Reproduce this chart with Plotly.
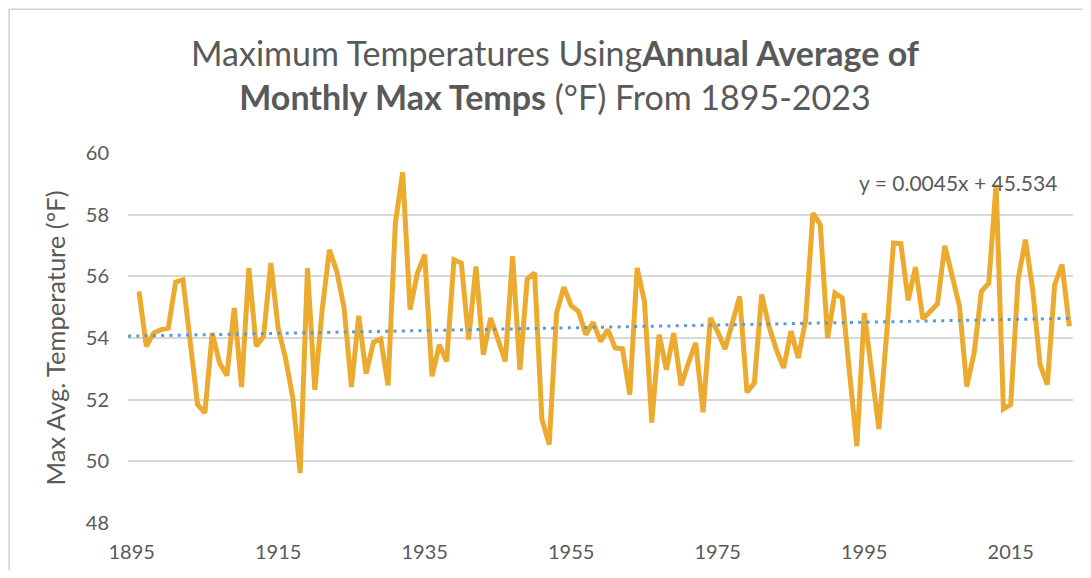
import plotly.graph_objects as go

# Data: annual average of monthly max temps (°F); 1895 has no value plotted
years = list(range(1896, 2024))
max_temps = [
    55.51, 53.73, 54.16, 54.27, 54.32, 55.81, 55.89, 53.84, 51.84, 51.57,  # 1896-1905
    54.16, 53.19, 52.78, 54.97, 52.41, 56.27, 53.73, 54.05, 56.43, 54.32,  # 1906-1915
    53.35, 52.05, 49.62, 56.27, 52.32, 54.90, 56.86, 56.16, 54.97, 52.41,  # 1916-1925
    54.72, 52.84, 53.86, 53.97, 52.46, 57.73, 59.37, 54.92, 56.10, 56.70,  # 1926-1935
    52.76, 53.78, 53.24, 56.54, 56.43, 53.95, 56.32, 53.46, 54.65, 53.95,  # 1936-1945
    53.24, 56.65, 52.97, 55.91, 56.11, 51.37, 50.54, 54.81, 55.65, 55.05,  # 1946-1955
    54.86, 54.11, 54.51, 53.89, 54.27, 53.68, 53.65, 52.16, 56.27, 55.19,  # 1956-1965
    51.26, 54.11, 52.97, 54.16, 52.46, 53.19, 53.84, 51.59, 54.65, 54.20,  # 1966-1975
    53.64, 54.49, 55.35, 52.24, 52.54, 55.41, 54.38, 53.62, 53.03, 54.22,  # 1976-1985
    53.35, 54.59, 58.05, 57.68, 54.00, 55.46, 55.30, 52.86, 50.49, 54.81,  # 1986-1995
    52.86, 51.05, 53.95, 57.08, 57.06, 55.22, 56.30, 54.62, 54.86, 55.11,  # 1996-2005
    56.99, 56.05, 55.03, 52.43, 53.51, 55.51, 55.78, 58.97, 51.70, 51.84,  # 2006-2015
    55.89, 57.19, 55.57, 53.14, 52.49, 55.73, 56.38, 54.38,                # 2016-2023
]

# Linear trend as labelled on the chart
trend_slope = 0.0045
trend_intercept = 45.534
trend_x = [1894.5, 2023]
trend_y = [trend_slope * x + trend_intercept for x in trend_x]

x_tick_vals = [1895, 1915, 1935, 1955, 1975, 1995, 2015]
y_tick_vals = [48, 50, 52, 54, 56, 58, 60]

FONT = "Lato"
GRAY = "#595959"

# The page body has an 8px default margin; size the figure so it fits the window.
W, H = 1075, 562
OFF = 8
L, R, T, B = 128.3, 1072.7, 153.3, 523.3  # plot area on screen


def px_x(sx):
    return (sx - L) / (R - L)


def px_y(sy):
    return (B - sy) / (B - T)


fig = go.Figure()
fig.add_trace(go.Scatter(
    x=years, y=max_temps, mode="lines",
    line=dict(color="#ECAB2F", width=5),
    showlegend=False, hoverinfo="x+y",
))
fig.add_trace(go.Scatter(
    x=trend_x, y=trend_y, mode="lines",
    line=dict(color="#5B9BD5", width=3, dash="3px,5.3px"),
    showlegend=False, hoverinfo="skip",
))

fig.update_layout(
    width=W, height=H,
    margin=dict(l=L - OFF, r=W - (R - OFF), t=T - OFF, b=H - (B - OFF), autoexpand=False),
    paper_bgcolor="white", plot_bgcolor="white",
    font=dict(family=FONT, color=GRAY),
    title=dict(
        text="Maximum Temperatures Using<b>Annual Average of</b><br><b>Monthly Max Temps</b> (°F) From 1895-2023",
        x=(555 - OFF) / W, xref="container", xanchor="center",
        y=1 - 57.5 / H, yref="container", yanchor="top",
        font=dict(family=FONT, size=34, color=GRAY),
    ),
    xaxis=dict(
        range=[1894.5, 2023.5], tickvals=x_tick_vals, automargin=False,
        showgrid=False, zeroline=False, showline=False,
        tickfont=dict(size=20, color=GRAY), ticks="", ticklabelstandoff=15,
    ),
    yaxis=dict(
        range=[48, 60], tickvals=y_tick_vals, automargin=False,
        showgrid=True, gridcolor="#D9D9D9", gridwidth=1.5,
        zeroline=False, showline=False, ticks="",
        tickfont=dict(size=20, color=GRAY), ticklabelstandoff=18,
        title=dict(text="Max Avg. Temperature (°F)", font=dict(size=25.5, color=GRAY), standoff=12),
    ),
    annotations=[dict(
        x=px_x(958), y=px_y(183), xref="paper", yref="paper",
        xanchor="center", yanchor="middle",
        text="y = 0.0045x + 45.534", showarrow=False,
        font=dict(size=21, color=GRAY, family=FONT),
    )],
    shapes=[dict(
        type="rect", xref="paper", yref="paper",
        x0=px_x(9.5), x1=1.2, y0=-0.4, y1=px_y(9.5),
        line=dict(color="#D0D0D0", width=1.5), fillcolor="rgba(0,0,0,0)", layer="above",
    )],
)

fig.write_html("out.html")
